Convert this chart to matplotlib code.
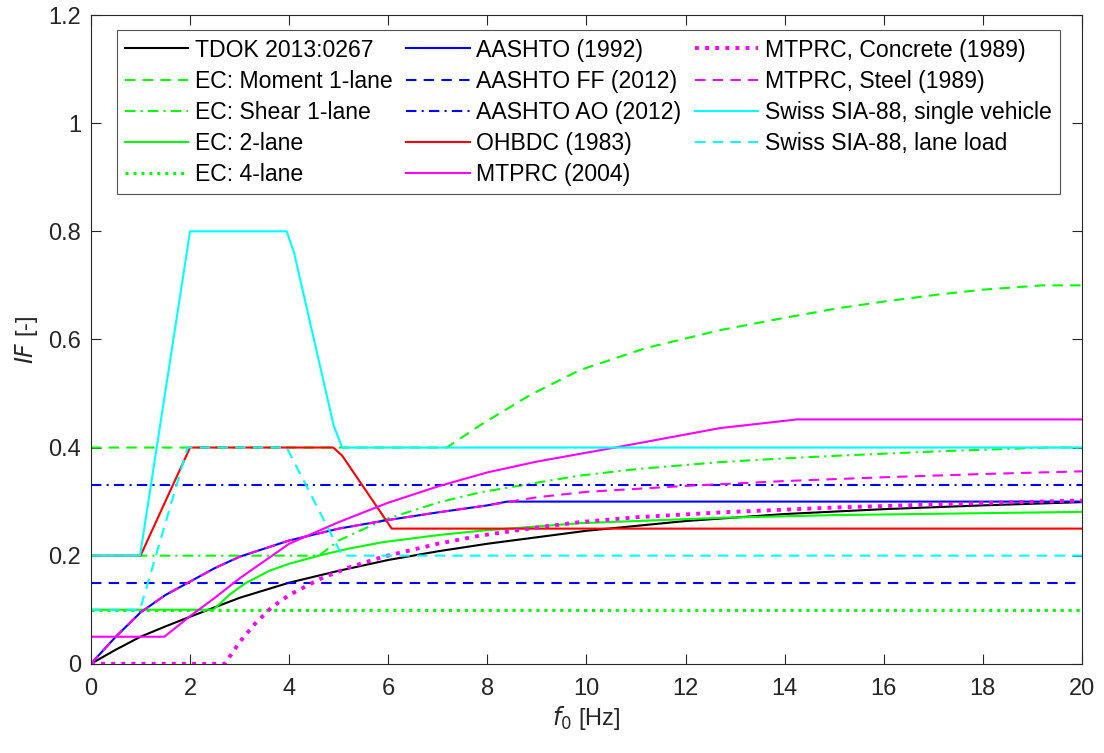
import numpy as np
import matplotlib.pyplot as plt

plt.rcParams['font.family'] = ['Liberation Sans', 'DejaVu Sans']

# values (f0 in Hz, IF in -)
f_tdok = [0, 0.5, 1, 1.5, 2, 3, 4, 5, 6, 7, 8, 10, 12, 14, 16, 18, 20]
if_tdok = [0, 0.026, 0.05, 0.069, 0.087, 0.122, 0.15, 0.172, 0.192, 0.208, 0.222, 0.246, 0.264, 0.277, 0.286, 0.293, 0.299]

f_ec_mom = [0, 7.18, 7.85, 8.86, 9.86, 11.2, 12.69, 14, 15.1, 16, 17.1, 18, 19.2, 20]
if_ec_mom = [0.4, 0.4, 0.441, 0.497, 0.543, 0.584, 0.617, 0.64, 0.658, 0.67, 0.683, 0.692, 0.70, 0.70]

f_ec_shear = [0, 4.6, 5.0, 5.9, 7, 7.85, 9, 9.86, 11, 12.69, 14, 15.1, 17.1, 19.3, 20]
if_ec_shear = [0.2, 0.2, 0.228, 0.266, 0.298, 0.317, 0.335, 0.348, 0.36, 0.373, 0.38, 0.385, 0.393, 0.4, 0.4]

f_ec_2 = [0, 2.47, 2.8, 3.1, 3.6, 4.0, 4.6, 5.2, 5.9, 7, 7.85, 9, 9.86, 12.7, 15, 17.5, 20]
if_ec_2 = [0.1, 0.1, 0.128, 0.148, 0.172, 0.185, 0.2, 0.213, 0.225, 0.238, 0.246, 0.254, 0.26, 0.27, 0.275, 0.278, 0.281]

f_ec_4 = [0, 20]
if_ec_4 = [0.1, 0.1]

f_aashto = [0, 0.5, 1, 1.5, 2, 2.5, 3, 4, 5, 6, 7, 8, 8.4, 20]
if_aashto = [0, 0.05, 0.095, 0.127, 0.152, 0.177, 0.198, 0.228, 0.25, 0.266, 0.28, 0.293, 0.3, 0.3]

f_aashto_ff = [0, 20]
if_aashto_ff = [0.15, 0.15]

f_aashto_ao = [0, 20]
if_aashto_ao = [0.33, 0.33]

f_ohbdc = [0, 1, 2, 4.89, 5.07, 6.07, 20]
if_ohbdc = [0.2, 0.2, 0.4, 0.4, 0.385, 0.25, 0.25]

f_mtprc = [0, 1.48, 2, 2.5, 3, 3.5, 4, 5, 6, 7, 8, 9, 10.7, 12.7, 14.25, 20]
if_mtprc = [0.05, 0.05, 0.088, 0.122, 0.158, 0.19, 0.222, 0.262, 0.298, 0.328, 0.354, 0.374, 0.402, 0.436, 0.452, 0.452]

f_mtprc_conc = [0, 2.7, 3.0, 3.3, 3.64, 4.0, 4.6, 5.2, 5.9, 7, 7.85, 9, 9.86, 11, 12.7, 15, 17.5, 20]
if_mtprc_conc = [0, 0, 0.04, 0.073, 0.104, 0.127, 0.156, 0.178, 0.198, 0.222, 0.237, 0.252, 0.262, 0.271, 0.28, 0.289, 0.296, 0.302]

f_mtprc_steel = [0, 0.5, 1, 1.5, 2, 2.5, 3, 4, 5, 6, 7, 8, 9, 10, 12, 14, 16, 18, 20]
if_mtprc_steel = [0, 0.05, 0.095, 0.127, 0.152, 0.177, 0.198, 0.228, 0.25, 0.266, 0.28, 0.293, 0.308, 0.318, 0.329, 0.338, 0.345, 0.351, 0.356]

f_sia_single = [0, 0.99, 2.0, 3.95, 4.1, 4.9, 5.07, 20]
if_sia_single = [0.2, 0.2, 0.8, 0.8, 0.76, 0.44, 0.4, 0.4]

f_sia_lane = [0, 0.99, 1.95, 3.95, 5.07, 20]
if_sia_lane = [0.1, 0.1, 0.4, 0.4, 0.2, 0.2]

green = '#00FF00'
blue = '#0000FF'
red = '#FF0000'
mag = '#FF00FF'
cyan = '#00FFFF'
dash = (5, 3.5)
dashdot = (5, 2.5, 1, 2.5)
dot = (1, 1.6)
axcol = '#262626'

fig = plt.figure(figsize=(11.04, 7.53), dpi=100)
ax = fig.add_axes([0.0824, 0.1185, 0.8976, 0.8615])

lw = 1.5
ax.plot(f_tdok, if_tdok, color='k', lw=lw, label='TDOK 2013:0267')
ax.plot(f_ec_mom, if_ec_mom, color=green, lw=lw, dashes=dash, label='EC: Moment 1-lane')
ax.plot(f_ec_shear, if_ec_shear, color=green, lw=lw, dashes=dashdot, label='EC: Shear 1-lane')
ax.plot(f_ec_2, if_ec_2, color=green, lw=lw, label='EC: 2-lane')
ax.plot(f_ec_4, if_ec_4, color=green, lw=2.2, dashes=dot, label='EC: 4-lane')
ax.plot(f_aashto, if_aashto, color=blue, lw=lw, label='AASHTO (1992)')
ax.plot(f_aashto_ff, if_aashto_ff, color=blue, lw=lw, dashes=dash, label='AASHTO FF (2012)')
ax.plot(f_aashto_ao, if_aashto_ao, color=blue, lw=lw, dashes=dashdot, label='AASHTO AO (2012)')
ax.plot(f_ohbdc, if_ohbdc, color=red, lw=lw, label='OHBDC (1983)')
ax.plot(f_mtprc, if_mtprc, color=mag, lw=lw, label='MTPRC (2004)')
ax.plot(f_mtprc_conc, if_mtprc_conc, color=mag, lw=2.8, dashes=dot, label='MTPRC, Concrete (1989)')
ax.plot(f_mtprc_steel, if_mtprc_steel, color=mag, lw=lw, dashes=dash, label='MTPRC, Steel (1989)')
ax.plot(f_sia_single, if_sia_single, color=cyan, lw=lw, label='Swiss SIA-88, single vehicle')
ax.plot(f_sia_lane, if_sia_lane, color=cyan, lw=lw, dashes=dash, label='Swiss SIA-88, lane load')

ax.set_xlim(0, 20)
ax.set_ylim(0, 1.2)
ax.set_xticks(np.arange(0, 21, 2))
ax.set_yticks(np.arange(0, 1.21, 0.2))
ax.set_yticklabels(['0', '0.2', '0.4', '0.6', '0.8', '1', '1.2'])
ax.tick_params(direction='in', top=True, right=True, labelsize=17, colors=axcol, length=7, width=0.8)
ax.tick_params(axis='x', pad=10)
ax.tick_params(axis='y', pad=7)
for s in ax.spines.values():
    s.set_color(axcol)
    s.set_linewidth(0.8)

ax.set_xlabel(r'$\mathit{f}_0$ [Hz]', fontsize=17, color=axcol, labelpad=3)
ax.set_ylabel(r'$\mathit{IF}$ [-]', fontsize=17, color=axcol, labelpad=6)

leg = ax.legend(ncol=3, loc='upper left', bbox_to_anchor=(0.026, 0.977), borderaxespad=0,
                fontsize=16.6, handlelength=2.74, handletextpad=0.28, columnspacing=0.6,
                labelspacing=0.35, frameon=True, fancybox=False, edgecolor=axcol, borderpad=0.37)
leg.get_frame().set_linewidth(0.8)

plt.savefig('out.png', dpi=100)
